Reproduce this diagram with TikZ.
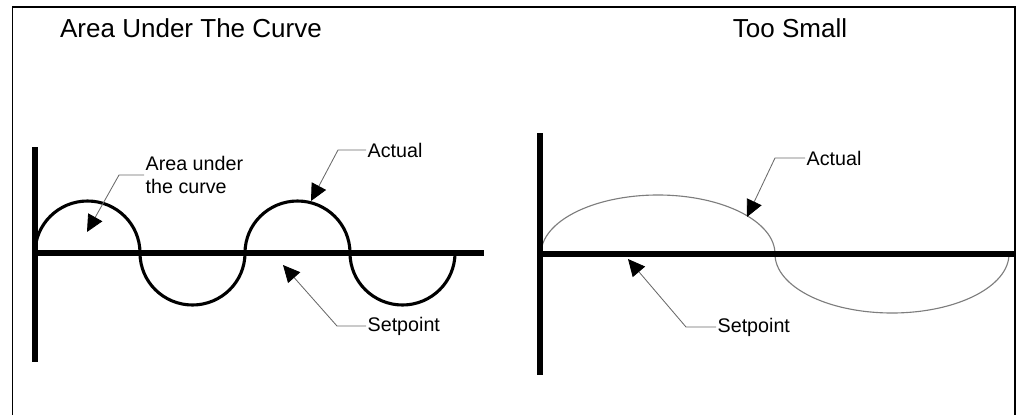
\documentclass[tikz,border=0pt]{standalone}
\usepackage{fontspec}
\setmainfont{Liberation Sans}
\usepackage{xcolor}
\definecolor{ink}{RGB}{0,0,0}
\definecolor{leadgray}{RGB}{105,105,105}
\definecolor{thingray}{RGB}{125,125,125}
\usepackage{tikz}
\usetikzlibrary{arrows.meta}
\tikzset{
  frame/.style={draw=ink, line width=1pt},
  axisline/.style={draw=ink, line width=4.3pt},
  wave/.style={draw=ink, line width=2.2pt},
  thinwave/.style={draw=thingray, line width=0.8pt},
  leader/.style={draw=leadgray, line width=0.6pt,
                 -{Triangle[length=12pt,width=11.5pt,color=ink]}},
  title/.style={font=\fontsize{18.5}{22}\selectfont, anchor=base},
  callout/.style={font=\fontsize{14}{17}\selectfont, anchor=west,
                  inner sep=1pt, align=left},
}

\begin{document}
\begin{tikzpicture}[x=0.025cm,y=-0.025cm]
  \useasboundingbox (0,0) rectangle (1021,415);
  %% Frame
  \draw[frame] (12.5,415) |- (1015,7) -- (1015,415);
  %% Titles
  \node[title] (titleL) at (191,37) {Area Under The Curve};
  \node[title] (titleR) at (790,37) {Too Small};

  %% Left panel: full swing
  \def\rx{52.5}
  \def\ry{52}
  \draw[wave] (35,253)
    arc[start angle=180,end angle=360,x radius=\rx,y radius=\ry]
    arc[start angle=180,end angle=0,x radius=\rx,y radius=\ry]
    arc[start angle=180,end angle=360,x radius=\rx,y radius=\ry]
    arc[start angle=180,end angle=0,x radius=\rx,y radius=\ry];
  \draw[axisline] (35,147) -- (35,362);
  \draw[axisline] (35,253) -- (484,253);

  \coordinate (tipArea) at (87,232);
  \coordinate (tipActL) at (311,201);
  \coordinate (tipSetL) at (283,265);
  \node[callout] (areaL) at (144,175) {Area under\\the curve};
  \node[callout] (actL)  at (366,150) {Actual};
  \node[callout] (setL)  at (366,326) {Setpoint};
  \draw[leader] (areaL.west) -- ++(-25,0) -- (tipArea);
  \draw[leader] (actL.west)  -- ++(-28,0) -- (tipActL);
  \draw[leader] (setL.west)  -- ++(-29,0) -- (tipSetL);

  %% Right panel: gain too small
  \def\Rx{117}
  \def\Ry{59}
  \draw[thinwave] (541,254)
    arc[start angle=180,end angle=360,x radius=\Rx,y radius=\Ry]
    arc[start angle=180,end angle=0,x radius=\Rx,y radius=\Ry];
  \draw[axisline] (540,133) -- (540,375);
  \draw[axisline] (540,254) -- (1015,254);

  \coordinate (tipActR) at (747,217);
  \coordinate (tipSetR) at (628,259);
  \node[callout] (actR) at (805,158) {Actual};
  \node[callout] (setR) at (716,327) {Setpoint};
  \draw[leader] (actR.west) -- ++(-30,0) -- (tipActR);
  \draw[leader] (setR.west) -- ++(-30,0) -- (tipSetR);
\end{tikzpicture}
\end{document}
